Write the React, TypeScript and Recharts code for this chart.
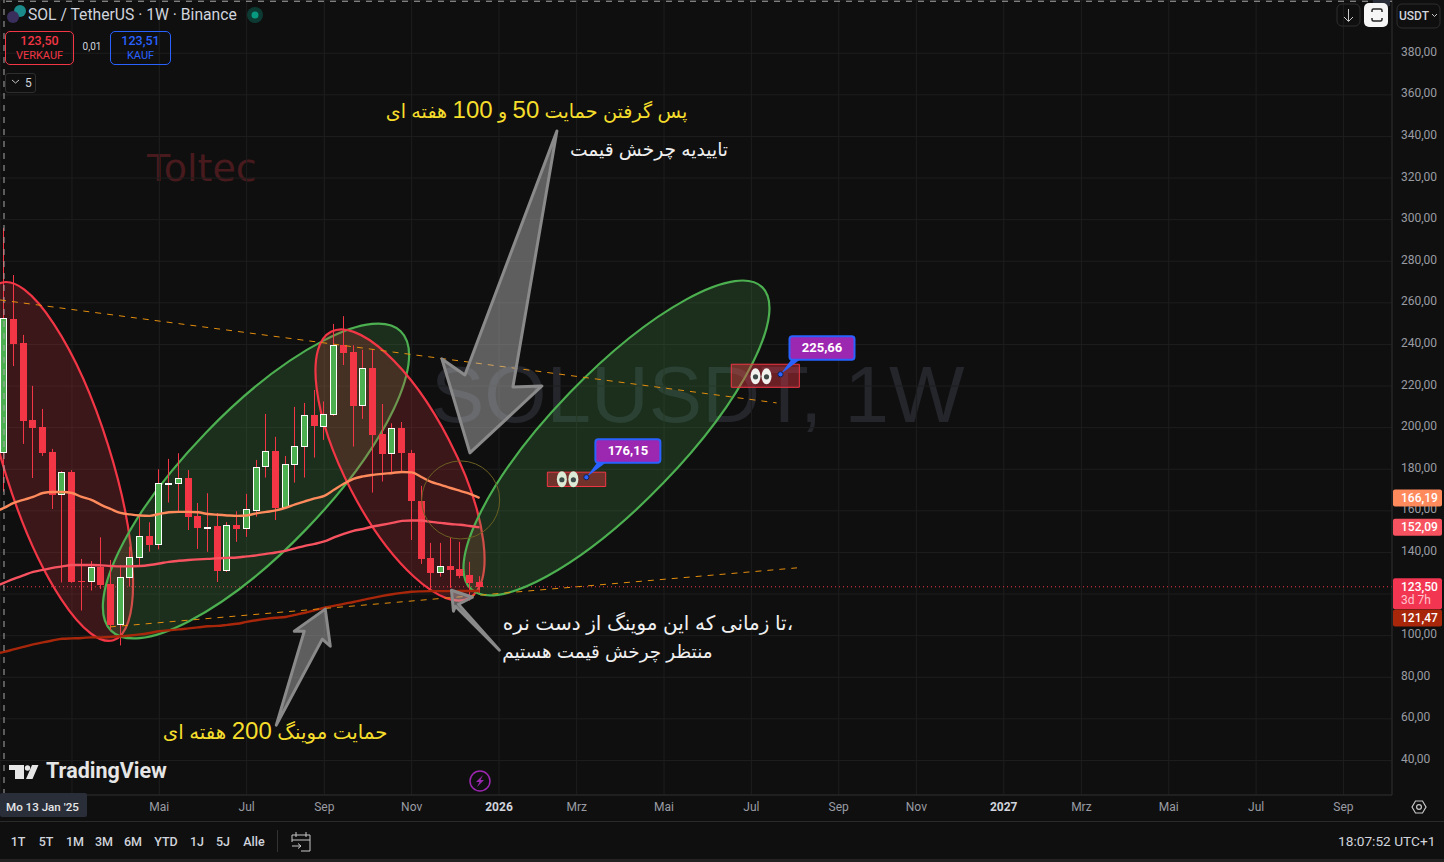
import React from 'react';
import { ComposedChart, Bar, Line, XAxis, YAxis, CartesianGrid, ReferenceLine, ReferenceDot, ReferenceArea } from 'recharts';

// week index -1 only carries the moving averages, candles start at 0 (Mo 13 Jan '25)
const weeks = [-1, ...Array.from({ length: 50 }, (_, i) => i)];

const opens = [188.2, 252.3, 240.7, 203.7, 200.4, 188.3, 168, 178.7, 126.2, 126, 133.2, 124.9, 105.3, 128.1, 137.7, 148, 144, 173.1, 173.3, 175.8, 157.6, 152, 152.8, 131.3, 153.2, 151.6, 160.8, 181.5, 188.8, 161.8, 182.4, 191.1, 206, 200.6, 206.5, 239.8, 236.4, 210.6, 228.7, 197, 187.6, 199.8, 187.7, 164.8, 137.4, 130.6, 133.6, 132.1, 129.2, 125.9];
const highs = [296, 273.4, 244.6, 220.1, 209, 189.8, 179.1, 179.6, 136.9, 135.9, 147.3, 136.4, 134, 142.8, 157.2, 154.5, 180, 185, 187.7, 179.6, 163.8, 168.5, 158.9, 154.6, 159.8, 168.2, 184.5, 206.6, 195.6, 186.4, 210, 211.9, 218.1, 212.6, 249.9, 253.6, 239.6, 237.4, 237.7, 211.4, 202.1, 202.7, 189.3, 172, 144.6, 144.6, 147, 145.1, 135.5, 128.6];
const lows = [169.3, 229.6, 192.2, 175.8, 186.4, 160.9, 125.6, 125.4, 112.1, 121.7, 122.5, 102.6, 95.3, 123.6, 134, 140.4, 141.5, 164, 159.6, 150.8, 141.7, 140.3, 125.8, 130.6, 145.1, 147.5, 157.2, 176, 155.6, 161.6, 173.6, 176, 185.6, 194.1, 205.6, 230.1, 190.9, 204.2, 168.8, 174.1, 177.6, 178.6, 146, 134.5, 122, 128.4, 123, 127.6, 116.9, 120.6];
const closes = [252.6, 240.2, 203.2, 199.9, 187.9, 167.6, 178.6, 125.9, 125.8, 132.9, 124.4, 105.2, 128.1, 137.7, 147.8, 143.6, 173.3, 173.3, 175.6, 157.2, 151.8, 152.4, 131.1, 153.1, 151.3, 160.8, 181.3, 188.6, 161.6, 182.4, 191.1, 206, 200.6, 206.5, 239.6, 235.9, 210.6, 228.6, 196.5, 187.6, 199.6, 187.6, 164.5, 136.9, 130.2, 133.4, 131.8, 128.7, 125.4, 123.5];

const ma50 = [159.5, 161.4, 163.8, 165.3, 166.7, 168.6, 169.1, 169.1, 168.6, 166.7, 165.3, 162.9, 160.9, 159, 158.3, 157.8, 157.6, 158.5, 159.3, 159.5, 159.5, 159.3, 158.5, 158.1, 157.8, 157.6, 157.8, 158.8, 159.5, 160.2, 161.4, 163.1, 164.6, 166, 167.2, 170.1, 173, 175.4, 176.6, 177.3, 177.8, 178.2, 178.7, 178.5, 176.3, 173.9, 172.5, 171, 169.6, 168.2, 166.19];
const ma100 = [123.5, 125.4, 127.3, 129, 130.7, 131.6, 132.6, 133.3, 134, 134, 134, 133.8, 133.5, 133.3, 133.3, 133.5, 134, 134.7, 135.5, 136, 136.4, 136.7, 136.9, 137.2, 137.4, 137.6, 138.1, 138.6, 139.3, 140, 140.8, 142, 143.2, 144.1, 145.3, 147.2, 148.9, 150.4, 151.3, 152.5, 153.3, 154.2, 155.2, 155.4, 155.4, 154.7, 154.2, 153.7, 153.3, 152.7, 152.09];
const ma200 = [91.2, 92.2, 93.4, 94.6, 95.8, 96.8, 97.7, 98.5, 98.7, 98.9, 99.2, 99.2, 99.4, 99.7, 100.1, 100.6, 101.3, 102.1, 102.6, 103, 103.5, 104, 104.5, 104.7, 105.2, 105.7, 106.6, 107.4, 108.1, 108.6, 109, 110, 111, 112.2, 113.4, 114.3, 115.3, 116.2, 117.2, 118.2, 119.1, 119.9, 120.6, 121.1, 121.3, 121.4, 121.4, 121.4, 121.45, 121.46, 121.47];

const timeTicks = [7, 16, 25, 33, 42, 51, 59, 68, 77, 86, 94, 103, 111, 120, 129, 138];
// the first label is hidden behind the date box in the original
const timeLabels = ['', 'Mai', 'Jul', 'Sep', 'Nov', '2026', 'Mrz', 'Mai', 'Jul', 'Sep', 'Nov', '2027', 'Mrz', 'Mai', 'Jul', 'Sep'];
const priceTicks = [40, 60, 80, 100, 120, 140, 160, 180, 200, 220, 240, 260, 280, 300, 320, 340, 360, 380];
const rangeButtons = [['1T', 18], ['5T', 46], ['1M', 75], ['3M', 104], ['6M', 133], ['YTD', 166], ['1J', 197], ['5J', 223], ['Alle', 254]];

const RED = '#f23645';
const GREEN = '#4caf50';
const ORANGE = '#e38d0c';

const rows = weeks.map((w, k) => ({
  week: w,
  open: k ? opens[k - 1] : null,
  high: k ? highs[k - 1] : null,
  low: k ? lows[k - 1] : null,
  close: k ? closes[k - 1] : null,
  ma50: ma50[k],
  ma100: ma100[k],
  ma200: ma200[k],
}));

const comma = (v: number) => v.toFixed(2).replace('.', ',');

// wick + body, the bar itself spans low..high so the scale comes from its height
const Candle = (props: any) => {
  const { x, y, width, height, payload } = props;
  if (payload.high == null) return null;
  const unit = height / (payload.high - payload.low);
  const up = payload.close >= payload.open;
  const top = Math.round(y + (payload.high - Math.max(payload.open, payload.close)) * unit);
  const h = Math.round(Math.abs(payload.open - payload.close) * unit);
  const doji = h < 2;
  const left = Math.round(x);
  const mid = left + 3.5;
  return (
    <g>
      <line x1={mid} x2={mid} y1={y} y2={y + height} stroke={RED} strokeWidth={1} />
      {doji ? (
        <rect x={left} y={top} width={7} height={up ? 2 : 1} fill={up ? '#fff' : RED} />
      ) : up ? (
        <rect x={left + 0.5} y={top + 0.5} width={6} height={h} fill={GREEN} stroke="#fff" strokeWidth={1} />
      ) : (
        <rect x={left} y={top} width={7} height={h} fill={RED} />
      )}
    </g>
  );
};

const oval = (rx: number, ry: number, angle: number, stroke: string, fill: string, sw = 2.2) => (p: any) => (
  <ellipse cx={p.cx} cy={p.cy} rx={rx} ry={ry} transform={`rotate(${angle} ${p.cx} ${p.cy})`} stroke={stroke} strokeWidth={sw} fill={fill} />
);

// arrow outline given as pixel offsets from its tip
const arrow = (pts: number[][]) => (p: any) => (
  <polygon
    points={pts.map(([a, b]) => `${p.cx + a},${p.cy + b}`).join(' ')}
    fill="rgba(190,190,190,0.45)"
    stroke="#8a8a8a"
    strokeWidth={3}
    strokeLinejoin="round"
  />
);

// the digits are set larger than the Persian words
const note = (text: string, color: string, size: number) => (p: any) => (
  <text x={p.cx} y={p.cy} direction="rtl" textAnchor="start" fill={color} fontSize={size} fontFamily="'Liberation Sans','DejaVu Sans',sans-serif">
    {text.split(/(\d+)/).map((part, i) => (
      <tspan key={i} fontSize={i % 2 ? 24 : size}>{part}</tspan>
    ))}
  </text>
);

const tag = (text: string, bg: string, dy = 0, sub?: string) => (p: any) => {
  const y0 = p.cy + dy - 8.5;
  return (
    <g fontFamily="Roboto, sans-serif" fontSize={12} fontWeight={500}>
      <rect x={p.cx + 1} y={y0} width={49} height={sub ? 31 : 17} rx={2} fill={bg} />
      <text x={p.cx + 9} y={y0 + 12.5} fill="#fff">{text}</text>
      {sub && <text x={p.cx + 9} y={y0 + 26} fill="#ffc4cc" fontWeight={400}>{sub}</text>}
    </g>
  );
};

const callout = (text: string, eyeTint: string, eyeDx: number[]) => (p: any) => (
  <g>
    {eyeDx.map((d) => (
      <g key={d}>
        <ellipse cx={p.cx + d} cy={p.cy + 2} rx={5} ry={8} fill={eyeTint} />
        <circle cx={p.cx + d} cy={p.cy + 2.5} r={2.6} fill="#3d4a48" />
      </g>
    ))}
    <polygon points={`${p.cx},${p.cy} ${p.cx + 11},${p.cy - 15} ${p.cx + 20},${p.cy - 15}`} fill="#2962ff" />
    <rect x={p.cx + 9} y={p.cy - 38} width={65} height={23.5} rx={3} fill="#9c27b0" stroke="#2962ff" strokeWidth={2} />
    <text x={p.cx + 41.5} y={p.cy - 22} textAnchor="middle" fill="#fff" fontSize={13} fontWeight={700} fontFamily="Roboto, sans-serif">{text}</text>
    <circle cx={p.cx} cy={p.cy} r={2.6} fill="#2962ff" stroke="#16204a" strokeWidth={1} />
  </g>
);

const Txt = ({ x, y, size = 12, color = '#d1d4dc', weight = 400, center, children }: any) => (
  <div style={{ position: 'absolute', left: x, top: y, fontSize: size, color, fontWeight: weight, fontFamily: 'Roboto, sans-serif', lineHeight: 1, whiteSpace: 'nowrap', transform: center ? 'translate(-50%,-50%)' : 'translateY(-50%)' }}>
    {children}
  </div>
);

const Box = ({ x, y, w, h, border, bg = 'transparent', radius = 5 }: any) => (
  <div style={{ position: 'absolute', left: x, top: y, width: w, height: h, boxSizing: 'border-box', border: border ? `1px solid ${border}` : 'none', background: bg, borderRadius: radius }} />
);

export default function App() {
  return (
    <div style={{ position: 'absolute', left: 0, top: 0, width: 1444, height: 862, overflow: 'hidden', background: '#0f0f0f' }}>
      {/* watermarks sit under the chart */}
      <Txt x={147} y={168} size={38} color="#481a1d">
        <span style={{ fontFamily: "'DejaVu Sans', sans-serif" }}>Toltec</span>
      </Txt>
      <div style={{ position: 'absolute', left: 431, top: 340, fontSize: 80, lineHeight: '110px', color: '#24262c', fontFamily: "'Liberation Sans', sans-serif", whiteSpace: 'nowrap' }}>SOLUSDT, 1W</div>

      <div style={{ position: 'absolute', left: 0, top: 0 }}>
        <ComposedChart width={1444} height={862} data={rows} margin={{ top: 0, right: 0, bottom: 0, left: 0 }}>
          <CartesianGrid stroke="#1e1e1e" strokeWidth={1} />
          <XAxis
            dataKey="week"
            type="number"
            domain={[-0.412, 143]}
            allowDataOverflow
            ticks={timeTicks}
            interval={0}
            height={67}
            tickLine={false}
            tickSize={0}
            tickMargin={7}
            axisLine={{ stroke: '#2a2a2a' }}
            tick={(p: any) => {
              const label = timeLabels[timeTicks.indexOf(p.payload.value)];
              const year = label.length === 4;
              return (
                <text x={p.x} y={p.y + 9} textAnchor="middle" fontSize={12} fontFamily="Roboto, sans-serif" fill={year ? '#d1d4dc' : '#9a9ca3'} fontWeight={year ? 700 : 400}>
                  {label}
                </text>
              );
            }}
          />
          <YAxis
            orientation="right"
            width={52}
            type="number"
            domain={[23.4, 405.6]}
            allowDataOverflow
            ticks={priceTicks}
            interval={0}
            tickLine={false}
            tickSize={0}
            tickMargin={9}
            axisLine={{ stroke: '#2a2a2a' }}
            tick={(p: any) =>
              // 120,00 is covered by the price tags in the original
              p.payload.value === 120 ? <g /> : (
                <text x={p.x} y={p.y + 2.5} textAnchor="start" fontSize={12} fontFamily="Roboto, sans-serif" fill="#9a9ca3">
                  {comma(p.payload.value)}
                </text>
              )
            }
          />

          <ReferenceLine y={123.5} stroke={RED} strokeDasharray="1 3" zIndex={100} />

          {/* ovals stay under the candles */}
          <ReferenceDot x={5.51} y={183.75} ifOverflow="visible" zIndex={200} shape={oval(187.3, 53.2, 72.6, RED, 'rgba(242,54,69,0.2)')} />
          <ReferenceDot x={25.96} y={174.35} ifOverflow="visible" zIndex={200} shape={oval(208.3, 69.6, -46, GREEN, 'rgba(76,175,80,0.2)')} />
          <ReferenceDot x={40.8} y={182.05} ifOverflow="visible" zIndex={200} shape={oval(150, 55, 62.6, RED, 'rgba(242,54,69,0.2)')} />
          <ReferenceDot x={63.1} y={195.05} ifOverflow="visible" zIndex={200} shape={oval(209.7, 65, -46, GREEN, 'rgba(76,175,80,0.2)')} />

          <Bar dataKey={(d: any) => (d.high == null ? null : [d.low, d.high])} barSize={7} shape={Candle} isAnimationActive={false} zIndex={300} />
          <Line dataKey="ma50" type="monotone" stroke="#ff8a5c" strokeWidth={2.4} dot={false} isAnimationActive={false} zIndex={400} />
          <Line dataKey="ma100" type="monotone" stroke="#f7525f" strokeWidth={2.4} dot={false} isAnimationActive={false} zIndex={400} />
          <Line dataKey="ma200" type="monotone" stroke="#a8270a" strokeWidth={2.4} dot={false} isAnimationActive={false} zIndex={400} />

          <ReferenceLine x={0} stroke="#a8a8a8" strokeDasharray="6 6" zIndex={500} />
          <ReferenceLine y={405} stroke="#a8a8a8" strokeDasharray="6 6" zIndex={500} />

          <ReferenceLine segment={[{ x: -0.41, y: 261.4 }, { x: 79.6, y: 211.9 }]} stroke={ORANGE} strokeDasharray="6 6" ifOverflow="visible" zIndex={500} />
          <ReferenceLine segment={[{ x: 10.9, y: 104.2 }, { x: 81.7, y: 132.6 }]} stroke={ORANGE} strokeDasharray="6 6" ifOverflow="visible" zIndex={500} />

          <ReferenceDot x={47.05} y={165.25} ifOverflow="visible" zIndex={500} shape={oval(39, 39, 0, '#6b5f22', 'none', 1)} />

          <ReferenceArea x1={74.93} x2={81.94} y1={219.4} y2={230.5} fill={RED} fillOpacity={0.4} stroke={RED} ifOverflow="visible" zIndex={500} />
          <ReferenceArea x1={55.98} x2={61.99} y1={171.7} y2={178.6} fill={RED} fillOpacity={0.4} stroke={RED} ifOverflow="visible" zIndex={500} />
          <ReferenceDot x={80} y={225.66} ifOverflow="visible" zIndex={600} shape={callout('225,66', '#f2f2ee', [-25, -14])} />
          <ReferenceDot x={60} y={176.15} ifOverflow="visible" zIndex={600} shape={callout('176,15', '#dcebd6', [-24.5, -13])} />

          <ReferenceDot x={48} y={187.85} ifOverflow="visible" zIndex={600} shape={arrow([[0, 0], [72, -67], [43, -66], [87, -322], [-5, -78], [-28, -94]])} />
          <ReferenceDot x={33.1} y={112.75} ifOverflow="visible" zIndex={600} shape={arrow([[0, 0], [5, 37], [-3, 30], [-49, 116], [-21, 22], [-31, 22]])} />
          <ReferenceDot x={46.1} y={121.85} ifOverflow="visible" zIndex={600} shape={arrow([[0, 0], [21, 7], [7, 14], [48, 60], [4, 16], [2, 21]])} />

          <ReferenceDot x={70.4} y={348.9} ifOverflow="visible" zIndex={600} shape={note('پس گرفتن حمایت 50 و 100 هفته ای', '#f5dd2c', 19.2)} />
          <ReferenceDot x={74.6} y={330.6} ifOverflow="visible" zIndex={600} shape={note('تاییدیه چرخش قیمت', '#f0f0f0', 18.7)} />
          <ReferenceDot x={81.3} y={102.7} ifOverflow="visible" zIndex={600} shape={note('،تا زمانی که این موینگ از دست نره', '#f0f0f0', 20)} />
          <ReferenceDot x={73} y={89.3} ifOverflow="visible" zIndex={600} shape={note('منتظر چرخش قیمت هستیم', '#f0f0f0', 18.4)} />
          <ReferenceDot x={39.5} y={50.5} ifOverflow="visible" zIndex={600} shape={note('حمایت موینگ 200 هفته ای', '#f5dd2c', 19.8)} />

          <ReferenceDot x={143} y={166.19} ifOverflow="visible" zIndex={2500} shape={tag('166,19', '#ff8a5c')} />
          <ReferenceDot x={143} y={152.09} ifOverflow="visible" zIndex={2500} shape={tag('152,09', '#f7525f')} />
          <ReferenceDot x={143} y={123.5} ifOverflow="visible" zIndex={2500} shape={tag('123,50', '#f23652', 0, '3d 7h')} />
          <ReferenceDot x={143} y={121.47} ifOverflow="visible" zIndex={2500} shape={tag('121,47', '#a8270a', 27)} />
        </ComposedChart>
      </div>

      {/* header */}
      <svg style={{ position: 'absolute', left: 0, top: 0 }} width={1444} height={862}>
        <circle cx={20} cy={11} r={6} fill="#1a8a8a" />
        <circle cx={13} cy={17} r={6} fill="#3a2f5c" />
        <circle cx={255} cy={15} r={8} fill="#0d3b33" />
        <circle cx={255} cy={15} r={3.5} fill="#089981" />
        <rect x={1373} y={0} width={17} height={6} fill="#2a2e39" />
        {/* tradingview mark */}
        <path d="M9 765h15v14h-9v-9h-6z M32 765h6.5l-6 14H26z" fill="#e6e6e6" />
        <circle cx={27.5} cy={768} r={2.7} fill="#e6e6e6" />
        {/* lightning */}
        <circle cx={480} cy={781} r={10} fill="none" stroke="#9c27b0" strokeWidth={1.5} />
        <path d="M483 775l-7 7h3.5l-2.5 5 7-7h-3.5z" fill="#9c27b0" />
        {/* hidden time label box */}
        <rect x={0} y={793} width={87} height={24} rx={2} fill="#2a2e39" />
        {/* gear */}
        <polygon points="1412,807 1415.5,801 1422.5,801 1426,807 1422.5,813 1415.5,813" fill="none" stroke="#c8c8c8" strokeWidth={1.2} />
        <circle cx={1419} cy={807} r={2.4} fill="none" stroke="#c8c8c8" strokeWidth={1.2} />
        {/* collapse chevron */}
        <path d="M12 80l3.5 3 3.5-3" fill="none" stroke="#c8c8c8" />
        {/* top right buttons */}
        <rect x={1337} y={4} width={23} height={22} rx={5} fill="none" stroke="#2e2e2e" />
        <path d="M1348.5 9v12M1344 17l4.5 4.5 4.5-4.5" fill="none" stroke="#c8c8c8" />
        <rect x={1364} y={3} width={24} height={24} rx={5} fill="#f5f5f5" />
        <path d="M1372 12v-1.5a1.5 1.5 0 0 1 1.5-1.5h7a1.5 1.5 0 0 1 1.5 1.5V12M1372 18v1.5a1.5 1.5 0 0 0 1.5 1.5h7a1.5 1.5 0 0 0 1.5-1.5V18" fill="none" stroke="#222" strokeWidth={1.5} />
        <rect x={1397} y={4} width={43} height={24} rx={5} fill="none" stroke="#2e2e2e" />
        <path d="M1432 14l2.5 2.5 2.5-2.5" fill="none" stroke="#c8c8c8" />
        {/* bottom bar */}
        <rect x={0} y={821} width={1444} height={1} fill="#2a2a2a" />
        <rect x={0} y={859} width={1444} height={3} fill="#222" />
        <rect x={277} y={830} width={1} height={22} fill="#333" />
        <path d="M292 835h18v16h-9M292 835v7M296 832v5M306 832v5M292 840h18M292 846h9M298 843.5l3 2.5-3 2.5" fill="none" stroke="#c8c8c8" />
      </svg>

      <Txt x={28} y={15} size={15.7}>SOL / TetherUS · 1W · Binance</Txt>
      <Box x={5} y={31} w={69} h={34} border={RED} />
      <Txt x={39.5} y={41} size={12.5} color={RED} weight={500} center>123,50</Txt>
      <Txt x={39.5} y={55} size={11} color={RED} center>VERKAUF</Txt>
      <Txt x={92} y={47} size={10} center>0,01</Txt>
      <Box x={110} y={31} w={61} h={34} border="#2962ff" />
      <Txt x={140.5} y={41} size={12.5} color="#2962ff" weight={500} center>123,51</Txt>
      <Txt x={140.5} y={55} size={11} color="#2962ff" center>KAUF</Txt>
      <Box x={5} y={73} w={31} h={20} border="#2e2e2e" radius={3} />
      <Txt x={25} y={83} size={12}>5</Txt>

      <Txt x={1399} y={15.5} size={12} weight={500}>USDT</Txt>
      <Txt x={46} y={771} size={21.5} color="#e6e6e6" weight={700}>TradingView</Txt>
      <Txt x={6} y={808} size={11.6} color="#e6e6e6" weight={500}>Mo 13 Jan '25</Txt>

      {rangeButtons.map(([label, x]) => (
        <Txt key={label} x={x} y={841.5} size={12.5} weight={500} center>{label}</Txt>
      ))}
      <Txt x={1338} y={841.5} size={13.7}>18:07:52 UTC+1</Txt>
    </div>
  );
}
